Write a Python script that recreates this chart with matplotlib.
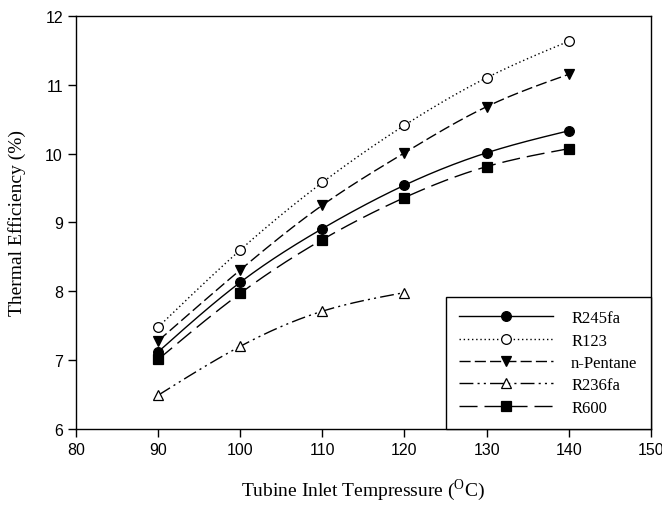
import numpy as np
import matplotlib
matplotlib.use("Agg")
import matplotlib.pyplot as plt
from matplotlib.lines import Line2D

plt.rcParams['font.family'] = ['Liberation Sans', 'DejaVu Sans']
plt.rcParams['mathtext.fontset'] = 'custom'
plt.rcParams['mathtext.rm'] = 'Liberation Serif'

# data
temps = [90, 100, 110, 120, 130, 140]
r245fa = [7.12, 8.13, 8.91, 9.54, 10.01, 10.33]
r123 = [7.48, 8.60, 9.58, 10.41, 11.10, 11.63]
npentane = [7.28, 8.31, 9.25, 10.01, 10.68, 11.15]
temps_r236fa = [90, 100, 110, 120]
r236fa = [6.49, 7.20, 7.71, 7.98]
r600 = [7.01, 7.97, 8.75, 9.36, 9.81, 10.07]


def smooth(x, y, n=200):
    # natural cubic spline, only for drawing the curve between the points
    x = np.asarray(x, float)
    y = np.asarray(y, float)
    k = len(x)
    h = np.diff(x)
    A = np.zeros((k, k))
    b = np.zeros(k)
    A[0, 0] = A[-1, -1] = 1
    for i in range(1, k - 1):
        A[i, i - 1] = h[i - 1]
        A[i, i] = 2 * (h[i - 1] + h[i])
        A[i, i + 1] = h[i]
        b[i] = 6 * ((y[i + 1] - y[i]) / h[i] - (y[i] - y[i - 1]) / h[i - 1])
    m = np.linalg.solve(A, b)
    xs = np.linspace(x[0], x[-1], n)
    idx = np.clip(np.searchsorted(x, xs) - 1, 0, k - 2)
    t = xs - x[idx]
    hi = h[idx]
    a = (m[idx + 1] - m[idx]) / (6 * hi)
    bb = m[idx] / 2
    c = (y[idx + 1] - y[idx]) / hi - hi * (2 * m[idx] + m[idx + 1]) / 6
    ys = y[idx] + c * t + bb * t ** 2 + a * t ** 3
    return xs, ys


series = [
    ('R245fa', temps, r245fa, '-', 'o', 'black'),
    ('R123', temps, r123, (0, (1, 2)), 'o', 'white'),
    ('n-Pentane', temps, npentane, (0, (8, 3)), 'v', 'black'),
    ('R236fa', temps_r236fa, r236fa, (0, (10, 3, 1.5, 3, 1.5, 3)), '^', 'white'),
    ('R600', temps, r600, (0, (13, 5)), 's', 'black'),
]

fig = plt.figure(figsize=(6.62, 5.10), dpi=100)
ax = fig.add_axes([0.115, 0.157, 0.868, 0.810])

handles = []
for name, xv, yv, ls, mk, fc in series:
    xs, ys = smooth(xv, yv)
    ax.plot(xs, ys, color='black', linestyle=ls, linewidth=1.0)
    ax.plot(xv, yv, linestyle='none', marker=mk, markersize=7,
            markerfacecolor=fc, markeredgecolor='black', markeredgewidth=0.9)
    handles.append(Line2D([], [], color='black', linestyle=ls, linewidth=1.0,
                          marker=mk, markersize=7, markerfacecolor=fc,
                          markeredgecolor='black', markeredgewidth=0.9,
                          label=name))

ax.set_xlim(80, 150)
ax.set_ylim(6, 12)
ax.set_xticks(range(80, 151, 10))
ax.set_yticks(range(6, 13))
ax.tick_params(direction='out', length=6, width=1, labelsize=11.5)
for s in ax.spines.values():
    s.set_linewidth(1.0)

ax.set_xlabel(r'Tubine Inlet Tempressure ($^{\rm O}$C)', fontfamily='Liberation Serif',
              fontsize=14, labelpad=14)
ax.set_ylabel('Thermal Efficiency (%)', fontfamily='Liberation Serif', fontsize=14,
              labelpad=14)

leg = ax.legend(handles=handles, loc='lower right', borderaxespad=0,
                prop={'family': 'Liberation Serif', 'size': 12},
                handlelength=5.6, handletextpad=1.1, labelspacing=0.38,
                borderpad=0.8, fancybox=False, framealpha=1, edgecolor='black')
leg.get_frame().set_linewidth(1.0)

fig.savefig('out.png', dpi=100)
